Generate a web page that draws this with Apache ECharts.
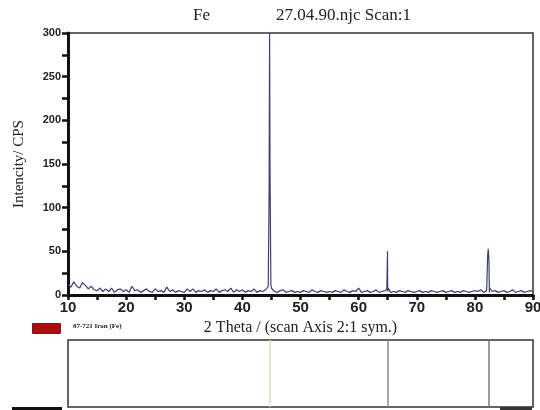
<!DOCTYPE html>
<html>
<head>
<meta charset="utf-8">
<script src="https://cdn.jsdelivr.net/npm/echarts@6/dist/echarts.min.js"></script>
<style>
html,body{margin:0;padding:0;background:#fff}
#main{width:540px;height:410px}
</style>
</head>
<body>
<div id="main"></div>
<script>
//扫描数据 2theta 10~90, 步长0.5
var thetaStart = 10
var thetaStep = 0.5
var baseCounts = [
	12, 9, 15, 10, 8, 14, 11, 7, 10, 6,
	5, 8, 4, 7, 4, 8, 3, 6, 7, 4,
	6, 3, 10, 5, 6, 3, 5, 7, 4, 3,
	7, 4, 5, 3, 9, 4, 6, 3, 5, 4,
	3, 7, 4, 7, 3, 5, 4, 6, 3, 5,
	4, 7, 3, 5, 6, 4, 8, 3, 6, 4,
	6, 3, 5, 4, 7, 3, 5, 4, 6, 11,
	8, 4, 3, 5, 6, 3, 4, 5, 3, 4,
	3, 5, 4, 3, 6, 4, 3, 5, 4, 3,
	4, 3, 5, 4, 3, 6, 4, 3, 5, 4,
	8, 3, 4, 5, 3, 4, 6, 3, 4, 5,
	4, 3, 4, 3, 5, 4, 3, 5, 4, 3,
	4, 5, 3, 4, 3, 5, 4, 3, 4, 5,
	3, 4, 5, 3, 4, 3, 5, 4, 3, 4,
	5, 4, 6, 3, 5, 3, 4, 5, 3, 4,
	5, 3, 4, 6, 3, 4, 5, 3, 4, 5,
	4
]
//峰
var peakTheta = [44.45, 44.6, 44.68, 44.76, 44.9, 64.85, 64.97, 65.1, 82.05, 82.2, 82.3, 82.42, 82.55]
var peakCounts = [10, 120, 300, 140, 12, 6, 50, 8, 10, 45, 53, 40, 8]
//卡片 87-721 Iron (Fe)
var refTheta = [44.67, 65.02, 82.33]
var refColor = ['#e2dcc0', '#8a8a8a', '#7a7a7a']
var yTicks = [0, 50, 100, 150, 200, 250, 300]

var scanData = []
for (var i = 0; i < baseCounts.length; i++) {
	scanData.push([thetaStart + i * thetaStep, baseCounts[i]])
}
for (var j = 0; j < peakTheta.length; j++) {
	scanData.push([peakTheta[j], peakCounts[j]])
}
scanData.sort(function (a, b) { return a[0] - b[0] })

var refLines = []
for (var k = 0; k < refTheta.length; k++) {
	refLines.push({ xAxis: refTheta[k], lineStyle: { color: refColor[k] } })
}

var myChart = echarts.init(document.getElementById('main'))
var option = {
	backgroundColor: '#fff',
	animation: false,
	title: [
		{ text: 'Fe', left: 188, top: 2, textStyle: { fontFamily: 'Liberation Serif', fontWeight: 'normal', fontSize: 17, color: '#222' } },
		{ text: '27.04.90.njc Scan:1', left: 271, top: 2, textStyle: { fontFamily: 'Liberation Serif', fontWeight: 'normal', fontSize: 17, color: '#222' } }
	],
	grid: [
		{ left: 68, right: 7, top: 33, height: 262, show: true, borderColor: '#333', borderWidth: 1.5, outerBoundsMode: 'none', containLabel: false },
		{ left: 68, right: 7, top: 340, height: 67, show: true, borderColor: '#333', borderWidth: 1.5, outerBoundsMode: 'none', containLabel: false }
	],
	xAxis: [
		{
			gridIndex: 0, type: 'value', min: 10, max: 90, interval: 10,
			name: '2 Theta / (scan Axis 2:1 sym.)', nameLocation: 'middle', nameGap: 17,
			nameTextStyle: { fontFamily: 'Liberation Serif', fontSize: 16, color: '#222' },
			axisLine: { onZero: false, lineStyle: { color: '#111', width: 3 } },
			axisTick: { show: true, length: 5, lineStyle: { color: '#111', width: 2.5 } },
			minorTick: { show: true, splitNumber: 2, length: 5, lineStyle: { color: '#111', width: 2.5 } },
			axisLabel: { margin: 5, fontFamily: 'Liberation Sans', fontWeight: 'bold', fontSize: 15, color: '#222' },
			splitLine: { show: false }
		},
		{
			gridIndex: 1, type: 'value', min: 10, max: 90,
			axisLine: { show: false }, axisTick: { show: false }, axisLabel: { show: false }, splitLine: { show: false }
		}
	],
	yAxis: [
		{
			gridIndex: 0, type: 'value', min: 0, max: 300, interval: 50,
			name: 'Intencity/ CPS', nameLocation: 'middle', nameGap: 41,
			nameTextStyle: { fontFamily: 'Liberation Serif', fontSize: 15, color: '#222' },
			axisLine: { show: true, lineStyle: { color: '#111', width: 3 } },
			axisTick: { show: true, length: 6, lineStyle: { color: '#111', width: 2.5 } },
			minorTick: { show: true, splitNumber: 2, length: 6, lineStyle: { color: '#111', width: 2.5 } },
			axisLabel: {
				margin: 7, fontFamily: 'Liberation Sans', fontWeight: 'bold', fontSize: 11, color: '#222',
				formatter: function (v) { return yTicks.indexOf(v) >= 0 ? v : '' }
			},
			splitLine: { show: false }
		},
		{
			gridIndex: 1, type: 'value', min: 0, max: 1,
			axisLine: { show: false }, axisTick: { show: false }, axisLabel: { show: false }, splitLine: { show: false }
		}
	],
	series: [
		{
			name: 'Fe', type: 'line', xAxisIndex: 0, yAxisIndex: 0,
			data: scanData, showSymbol: false, symbol: 'none',
			lineStyle: { color: '#3a4272', width: 1.2 }
		},
		{
			name: '87-721 Iron (Fe)', type: 'line', xAxisIndex: 1, yAxisIndex: 1,
			data: [], symbol: 'none',
			markLine: {
				silent: true, symbol: 'none', label: { show: false },
				lineStyle: { type: 'solid', width: 1.5 },
				data: refLines
			}
		}
	],
	graphic: [
		{ type: 'rect', left: 32, top: 323, shape: { width: 28, height: 10 }, style: { fill: '#b00a0a', stroke: '#7a1a1a', lineWidth: 1 } },
		{ type: 'text', left: 73, top: 323, style: { text: '87-721 Iron (Fe)', font: 'bold 7px "Liberation Serif"', fill: '#222' } },
		{ type: 'rect', left: 12, top: 407, shape: { width: 50, height: 3 }, style: { fill: '#111' } },
		{ type: 'rect', left: 500, top: 407, shape: { width: 32, height: 3 }, style: { fill: '#333' } }
	]
}
myChart.setOption(option)
</script>
</body>
</html>
